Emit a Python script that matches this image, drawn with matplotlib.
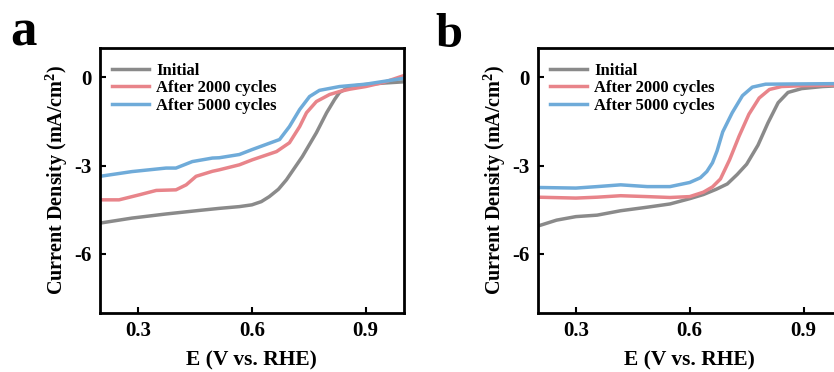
import numpy as np
import matplotlib
matplotlib.use("Agg")
import matplotlib.pyplot as plt

plt.rcParams['font.family'] = ['Liberation Serif', 'DejaVu Serif']
plt.rcParams['font.weight'] = 'bold'
plt.rcParams['mathtext.fontset'] = 'custom'
plt.rcParams['mathtext.rm'] = 'Liberation Serif:bold'
plt.rcParams['mathtext.bf'] = 'Liberation Serif:bold'

labels = ['Initial', 'After 2000 cycles', 'After 5000 cycles']
colors = ['#8a8a8a', '#e8848a', '#6fabd9']

# panel a
a_init_x = [0.2, 0.284, 0.374, 0.461, 0.514, 0.567, 0.6, 0.625, 0.646, 0.67, 0.691, 0.733, 0.77, 0.797, 0.818, 0.831, 0.86, 0.9, 0.95, 1.0]
a_init_y = [-4.95, -4.78, -4.64, -4.52, -4.45, -4.39, -4.33, -4.22, -4.05, -3.8, -3.48, -2.69, -1.88, -1.2, -0.75, -0.51, -0.3, -0.24, -0.19, -0.15]
a_2000_x = [0.2, 0.25, 0.303, 0.348, 0.4, 0.427, 0.453, 0.496, 0.514, 0.567, 0.601, 0.665, 0.699, 0.726, 0.744, 0.77, 0.805, 0.831, 0.858, 0.9, 0.947, 1.0]
a_2000_y = [-4.16, -4.16, -3.99, -3.84, -3.82, -3.65, -3.36, -3.19, -3.14, -2.97, -2.8, -2.52, -2.22, -1.67, -1.2, -0.82, -0.58, -0.48, -0.4, -0.31, -0.17, 0.06]
a_5000_x = [0.2, 0.284, 0.374, 0.4, 0.443, 0.496, 0.514, 0.567, 0.601, 0.673, 0.699, 0.726, 0.752, 0.778, 0.831, 0.9, 1.0]
a_5000_y = [-3.36, -3.2, -3.08, -3.08, -2.86, -2.74, -2.73, -2.62, -2.45, -2.11, -1.67, -1.09, -0.65, -0.44, -0.31, -0.23, -0.03]

# panel b
b_init_x = [0.2, 0.249, 0.3, 0.356, 0.418, 0.488, 0.548, 0.6, 0.636, 0.67, 0.699, 0.725, 0.75, 0.78, 0.806, 0.833, 0.859, 0.895, 0.95, 1.0]
b_init_y = [-5.05, -4.85, -4.73, -4.68, -4.53, -4.41, -4.3, -4.12, -3.98, -3.8, -3.62, -3.3, -2.95, -2.3, -1.55, -0.86, -0.51, -0.38, -0.31, -0.28]
b_2000_x = [0.2, 0.3, 0.356, 0.418, 0.488, 0.548, 0.6, 0.636, 0.66, 0.681, 0.705, 0.73, 0.756, 0.783, 0.81, 0.842, 0.9, 1.0]
b_2000_y = [-4.07, -4.1, -4.07, -4.02, -4.05, -4.08, -4.05, -3.9, -3.72, -3.45, -2.8, -2.0, -1.25, -0.7, -0.41, -0.31, -0.28, -0.26]
b_5000_x = [0.2, 0.3, 0.356, 0.418, 0.488, 0.548, 0.6, 0.628, 0.645, 0.66, 0.672, 0.687, 0.712, 0.739, 0.765, 0.8, 0.9, 1.0]
b_5000_y = [-3.74, -3.76, -3.71, -3.65, -3.71, -3.71, -3.57, -3.41, -3.2, -2.9, -2.5, -1.85, -1.2, -0.62, -0.33, -0.23, -0.22, -0.21]

xticks = [0.3, 0.6, 0.9]
yticks = [0, -3, -6]

fig = plt.figure(figsize=(8.34, 3.72), dpi=100)
ax_a = fig.add_axes([0.120, 0.159, 0.364, 0.712])
ax_b = fig.add_axes([0.645, 0.159, 0.364, 0.712])

panels = [
    (ax_a, [(a_init_x, a_init_y), (a_2000_x, a_2000_y), (a_5000_x, a_5000_y)]),
    (ax_b, [(b_init_x, b_init_y), (b_2000_x, b_2000_y), (b_5000_x, b_5000_y)]),
]

for ax, series in panels:
    for (x, y), lab, c in zip(series, labels, colors):
        ax.plot(x, y, color=c, lw=2.5, label=lab, solid_joinstyle='round')
    ax.set_xlim(0.2, 1.0)
    ax.set_ylim(-8, 1)
    ax.set_xticks(xticks)
    ax.set_yticks(yticks)
    ax.set_xticklabels(['0.3', '0.6', '0.9'])
    ax.set_yticklabels(['0', '-3', '-6'])
    ax.tick_params(direction='in', length=4, width=1.5, labelsize=15, pad=6)
    for sp in ax.spines.values():
        sp.set_linewidth(2)
    ax.set_xlabel('E (V vs. RHE)', fontsize=15.5, fontweight='bold', labelpad=7)
    ax.set_ylabel('Current Density (mA/cm$^2$)', fontsize=14.5, fontweight='bold', labelpad=3)
    ax.legend(loc='upper left', bbox_to_anchor=(-0.01, 1.0), frameon=False,
              prop={'size': 12, 'weight': 'bold'}, handlelength=2.2,
              handletextpad=0.45, labelspacing=0.08, borderaxespad=0.5)

fig.text(0.012, 0.879, 'a', fontsize=38, fontweight='bold', va='baseline', ha='left')
fig.text(0.522, 0.874, 'b', fontsize=35, fontweight='bold', va='baseline', ha='left')

fig.savefig('out.png', dpi=100)
